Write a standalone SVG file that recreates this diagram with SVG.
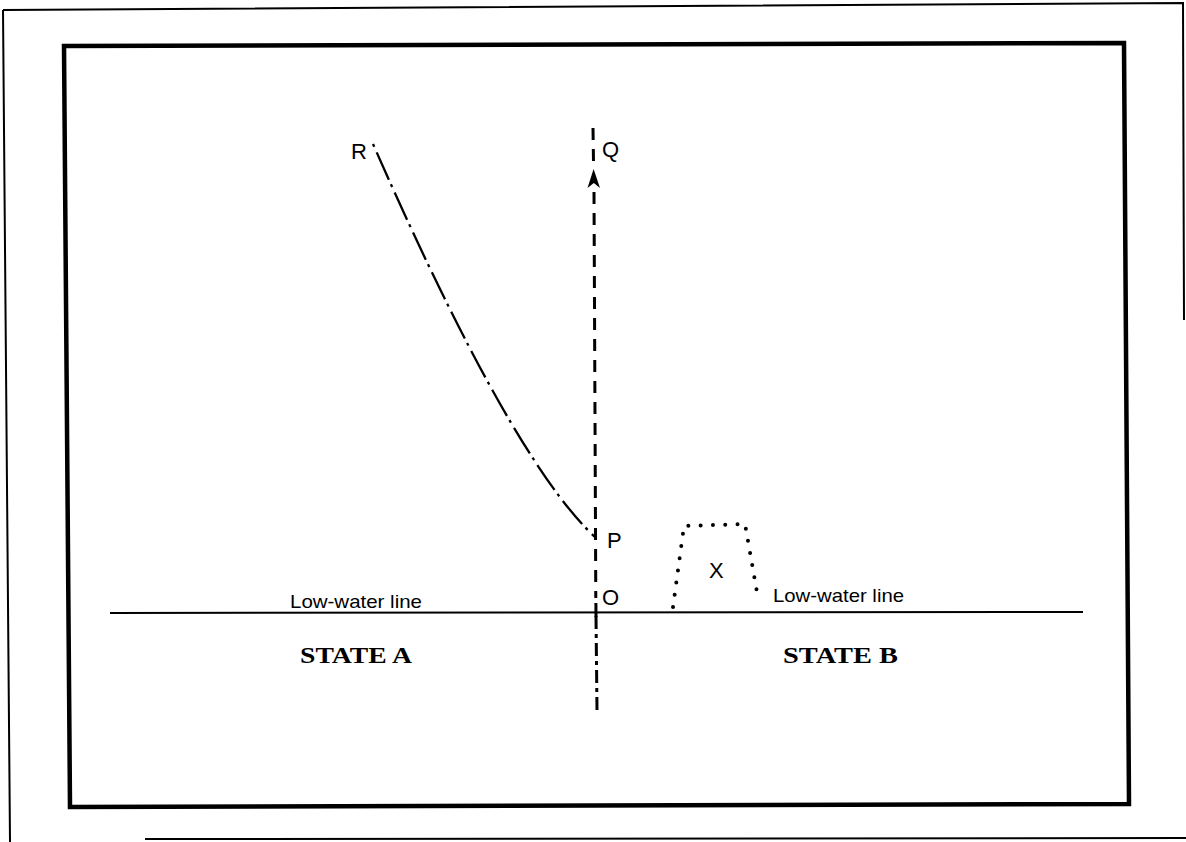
<svg xmlns="http://www.w3.org/2000/svg" width="1186" height="842" viewBox="0 0 1186 842">
<style>
.lbl{font-family:"Liberation Sans",Arial,sans-serif;font-size:22px;fill:#000}
.lw{font-family:"Liberation Sans",Arial,sans-serif;font-size:18.5px;fill:#000}
.st{font-family:"Liberation Serif","Times New Roman",serif;font-size:24px;font-weight:bold;fill:#000}
.ln{fill:none;stroke:#000}
.dash{stroke-width:3;stroke-dasharray:12 9}
</style>
<rect width="1186" height="842" fill="#fff"/>
<g id="frames">
<path class="ln" stroke-width="2" d="M3,10 L1183,3 L1184,320 M3,10 L10,842 M145,839 L1186,838"/>
<path class="ln" stroke-width="4.5" d="M64,46 L1124,43 L1129,804 L70,807 Z"/>
</g>
<g id="baseline">
<line class="ln" stroke-width="2" x1="110" y1="613" x2="1083" y2="612"/>
</g>
<g id="connectors">
<line class="ln dash" x1="593" y1="128" x2="593.6" y2="168"/>
<path d="M593.6,169 L600,188 L593.8,183 L587.5,188 Z" fill="#000"/>
<line class="ln dash" x1="594" y1="192" x2="595.8" y2="598"/>
<line class="ln" stroke-width="3" x1="595.9" y1="603" x2="596" y2="617"/>
<line class="ln" stroke-width="3" stroke-dasharray="13 5 4 5" x1="596" y1="616" x2="597" y2="710"/>
<path class="ln" stroke-width="2.3" stroke-dasharray="3 6 30 5" d="M373,144 Q512,460 595,537"/>
</g>
<g id="labels">
<text class="lbl" x="351" y="159">R</text>
<text class="lbl" x="602" y="157">Q</text>
<text class="lbl" x="607" y="548">P</text>
<text class="lbl" x="602" y="605">O</text>
<text class="lbl" x="709" y="578">X</text>
<text class="lw" x="290" y="608" textLength="132" lengthAdjust="spacingAndGlyphs">Low-water line</text>
<text class="lw" x="773" y="602" textLength="131" lengthAdjust="spacingAndGlyphs">Low-water line</text>
<text class="st" x="300" y="663" textLength="112" lengthAdjust="spacingAndGlyphs">STATE A</text>
<text class="st" x="783" y="663" textLength="115" lengthAdjust="spacingAndGlyphs">STATE B</text>
</g>
<g id="island-x">
<path class="ln" stroke-width="4" stroke-linecap="round" stroke-dasharray="0 12.3" d="M673,607 L684,526 L745,524 L758,598"/>
</g>
</svg>
